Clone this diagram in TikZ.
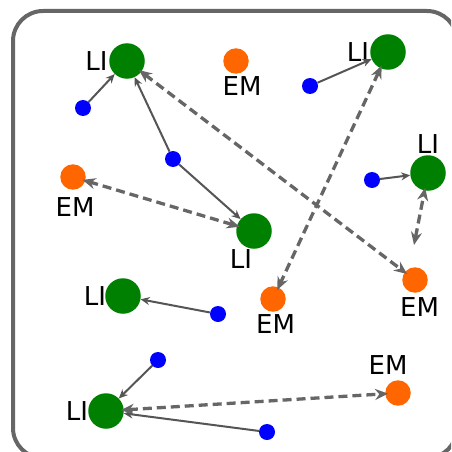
\documentclass[tikz,border=0pt]{standalone}
\usepackage{fontspec}
\setmainfont{DejaVu Sans}
\usetikzlibrary{arrows.meta}
\definecolor{frameg}{HTML}{666666}
\definecolor{lig}{HTML}{008000}
\definecolor{emo}{HTML}{FF6600}
\definecolor{dotb}{HTML}{0000FF}
\definecolor{solidc}{HTML}{555555}
\tikzset{
  li/.style={circle, fill=lig, inner sep=0pt, minimum size=35.5pt},
  em/.style={circle, fill=emo, inner sep=0pt, minimum size=25.5pt},
  bdot/.style={circle, fill=dotb, inner sep=0pt, minimum size=16pt},
  lbl/.style={font=\fontsize{26}{26}\selectfont, inner sep=0pt, text height=19pt, text depth=0pt, anchor=center},
  sarrow/.style={draw=solidc, line width=2pt, -{Stealth[length=9pt,width=8pt]}},
  darrow/.style={draw=frameg, line width=3.3pt, dash pattern=on 9pt off 5pt,
    {Stealth[length=13pt,width=11pt]}-{Stealth[length=13pt,width=11pt]},
    shorten <=-3pt, shorten >=-3pt},
  frame/.style={draw=frameg, line width=4pt, rounded corners=30pt}
}
\begin{document}
\begin{tikzpicture}[x=1pt,y=-1pt]
\useasboundingbox (0,0) rectangle (451,452);
\clip (0,0) rectangle (451,452);
\draw[frame] (13,11) rectangle (457,458);

% LI nodes
\node[li] (g1) at (127,61) {};
\node[li] (g2) at (388,52) {};
\node[li] (g3) at (428,173) {};
\node[li] (g4) at (254,231) {};
\node[li] (g5) at (123,296) {};
\node[li] (g6) at (106,411) {};

% EM nodes
\node[em] (e1) at (236,61) {};
\node[em] (e2) at (73,177) {};
\node[em] (e3) at (273,299) {};
\node[em] (e4) at (415,280) {};
\node[em] (e5) at (398,393) {};

% blue dots
\node[bdot] (b1) at (83,108) {};
\node[bdot] (b2) at (173,159) {};
\node[bdot] (b3) at (310,86) {};
\node[bdot] (b4) at (372,180) {};
\node[bdot] (b5) at (218,314) {};
\node[bdot] (b6) at (158,360) {};
\node[bdot] (b7) at (267,432) {};

\coordinate (fe) at (414,245);

% labels
\node[lbl] (lg1) at (96.5,61) {LI};
\node[lbl] (lg2) at (358,52) {LI};
\node[lbl] (lg3) at (428,144) {LI};
\node[lbl] (lg4) at (241,259) {LI};
\node[lbl] (lg5) at (95,296) {LI};
\node[lbl] (lg6) at (77,411) {LI};
\node[lbl] (le1) at (242,86) {EM};
\node[lbl] (le2) at (75,207) {EM};
\node[lbl] (le3) at (275.5,324) {EM};
\node[lbl] (le4) at (419.5,307) {EM};
\node[lbl] (le5) at (388,365) {EM};

% solid arrows
\draw[sarrow] (b1) -- (g1);
\draw[sarrow] (b2) -- (g1);
\draw[sarrow] (b2) -- (g4);
\draw[sarrow] (b3) -- (g2);
\draw[sarrow] (b4) -- (g3);
\draw[sarrow] (b5) -- (g5);
\draw[sarrow] (b6) -- (g6);
\draw[sarrow] (b7) -- (g6);

% dashed arrows
\draw[darrow] (g4) -- (e2);
\draw[darrow] (g1) -- (e4);
\draw[darrow] (g2) -- (e3);
\draw[darrow, shorten <=0pt] (fe) -- (g3);
\draw[darrow] (g6) -- (e5);
\end{tikzpicture}
\end{document}
